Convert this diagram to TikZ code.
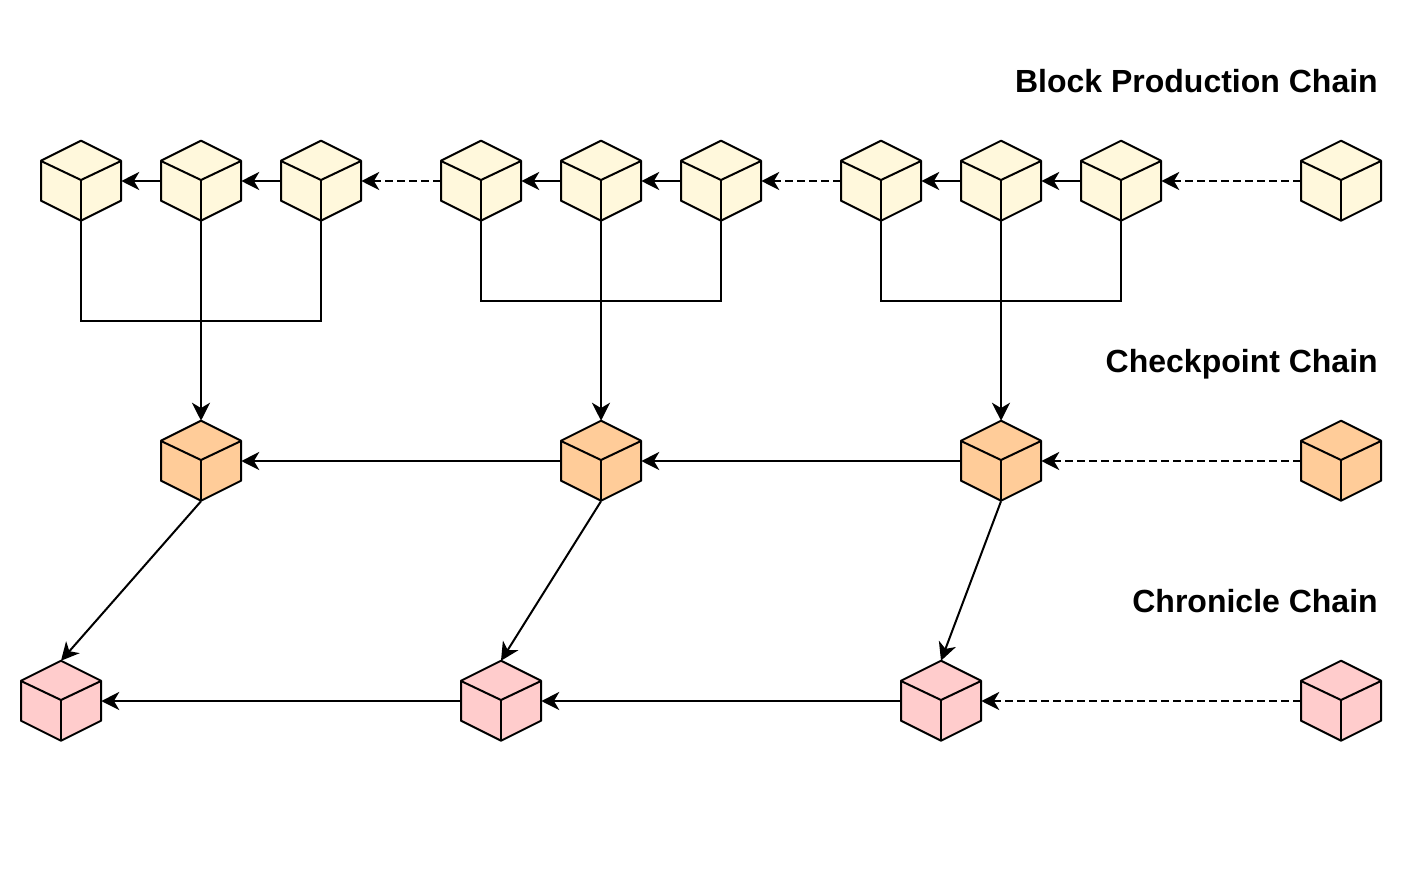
\documentclass[tikz,border=0pt]{standalone}
\usepackage{fontspec}
\setmainfont{Liberation Sans}
\usetikzlibrary{arrows.meta}
\definecolor{blockcol}{HTML}{FFF8DC}
\definecolor{checkcol}{HTML}{FFCC99}
\definecolor{chroncol}{HTML}{FFCCCC}
\tikzset{
  cubebox/.style={inner sep=0pt,minimum size=60pt},
  cubeline/.style={line width=1.5pt,line join=round},
  link/.style={line width=1.5pt,-{Stealth[length=13.5pt,width=13.5pt,inset=4pt]}},
  dashlink/.style={link,dash pattern=on 5.5pt off 3.5pt},
  plainlink/.style={line width=1.5pt},
  title/.style={anchor=base east,inner sep=0pt,font=\fontsize{24pt}{24pt}\selectfont\bfseries},
}
\newcommand{\cubenode}[3]{
  \node[cubebox] (#2) at (#3) {};
  \draw[cubeline,fill=#1] (#2.north) -- ++(40,20) -- ++(0,40) -- ++(-40,20) -- ++(-40,-20) -- ++(0,-40) -- cycle;
  \draw[cubeline] (#2.center) ++(-40,-20) -- ++(40,19) -- ++(40,-19);
  \draw[cubeline] (#2.center) ++(0,-1) -- (#2.south);
}
\begin{document}
\begin{tikzpicture}[x=0.75pt,y=-0.75pt]
\useasboundingbox (0,0) rectangle (1402,882);
% labels
\node[title] (titleblock) at (1378,92) {Block Production Chain};
\node[title] (titlecheck) at (1378,372) {Checkpoint Chain};
\node[title] (titlechron) at (1378,612) {Chronicle Chain};
% block production chain
\foreach \name/\xpos in {b1/81,b2/201,b3/321,b4/481,b5/601,b6/721,b7/881,b8/1001,b9/1121,bnew/1341} {
  \cubenode{blockcol}{\name}{\xpos,181}
}
% checkpoint chain
\foreach \name/\xpos in {c1/201,c2/601,c3/1001,cnew/1341} {
  \cubenode{checkcol}{\name}{\xpos,461}
}
% chronicle chain
\foreach \name/\xpos in {r1/61,r2/501,r3/941,rnew/1341} {
  \cubenode{chroncol}{\name}{\xpos,701}
}
% horizontal links
\foreach \from/\to in {b2/b1,b3/b2,b5/b4,b6/b5,b8/b7,b9/b8,c2/c1,c3/c2,r2/r1,r3/r2} {
  \draw[link] (\from.west) -- (\to.east);
}
\foreach \from/\to in {b4/b3,b7/b6,bnew/b9,cnew/c3,rnew/r3} {
  \draw[dashlink] (\from.west) -- (\to.east);
}
% down to checkpoints
\coordinate (hub1) at (201,321);
\coordinate (hub2) at (601,301);
\coordinate (hub3) at (1001,301);
\draw[plainlink] (b1.south) |- (hub1);
\draw[plainlink] (b3.south) |- (hub1);
\draw[plainlink] (b4.south) |- (hub2);
\draw[plainlink] (b6.south) |- (hub2);
\draw[plainlink] (b7.south) |- (hub3);
\draw[plainlink] (b9.south) |- (hub3);
\draw[link] (b2.south) -- (c1.north);
\draw[link] (b5.south) -- (c2.north);
\draw[link] (b8.south) -- (c3.north);
% down to chronicles
\draw[link] (c1.south) -- (r1.north);
\draw[link] (c2.south) -- (r2.north);
\draw[link] (c3.south) -- (r3.north);
\end{tikzpicture}
\end{document}
